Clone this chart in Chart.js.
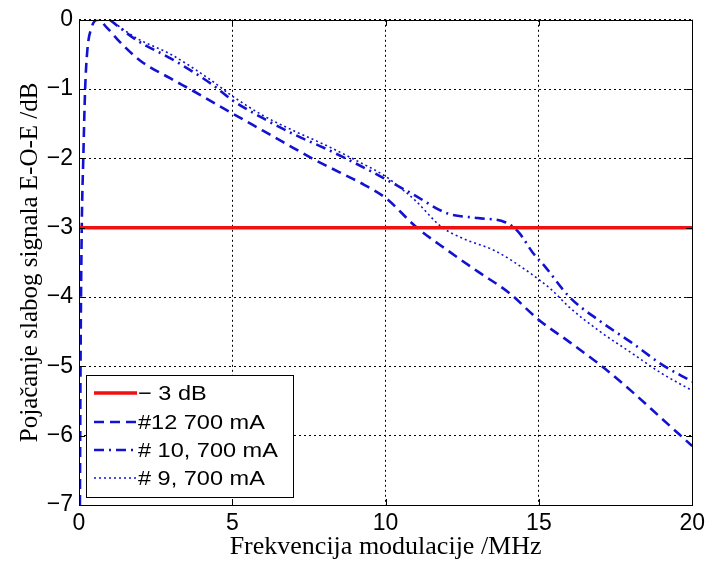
<!DOCTYPE html>
<html>
<head>
<meta charset="utf-8">
<script src="https://cdn.jsdelivr.net/npm/chart.js@4.4.0/dist/chart.umd.min.js"></script>
<style>
  html, body { margin: 0; padding: 0; background: #fff; }
  #wrap { width: 710px; height: 562px; }
</style>
</head>
<body>
<div id="wrap"><canvas id="ctx-gain" width="710" height="562"></canvas></div>
<script>
// series data (MHz, dB)
const limitX = [0, 20];
const limitY = [-3, -3];

const freq12 = [0.03, 0.05, 0.09, 0.14, 0.2, 0.27, 0.41, 0.63, 0.9, 1.4, 2.0, 3.0, 3.7, 5.0, 6.0, 7.0, 7.6, 8.5, 9.3, 10.0, 11.0, 12.0, 13.0, 14.0, 15.0, 16.0, 17.0, 18.0, 19.0, 20.0];
const gain12 = [-7, -5, -3, -2, -1, -0.45, -0.11, 0, -0.11, -0.35, -0.59, -0.85, -1.02, -1.35, -1.6, -1.85, -2.0, -2.2, -2.38, -2.57, -2.99, -3.32, -3.63, -3.93, -4.33, -4.65, -4.98, -5.35, -5.75, -6.15];

const freq10 = [1.0, 1.9, 3.0, 4.3, 5.0, 6.0, 7.0, 8.0, 8.7, 9.5, 10.0, 10.9, 12.0, 13.0, 13.9, 14.35, 14.8, 15.2, 16.0, 17.0, 18.0, 19.0, 20.0];
const gain10 = [0, -0.3, -0.56, -0.92, -1.16, -1.42, -1.65, -1.85, -2.0, -2.18, -2.3, -2.52, -2.79, -2.86, -2.92, -3.07, -3.36, -3.56, -4.0, -4.35, -4.65, -4.97, -5.22];

const freq9 = [1.0, 1.9, 3.0, 4.3, 5.0, 6.0, 7.0, 8.0, 9.0, 10.0, 10.5, 11.0, 11.8, 12.5, 13.6, 14.7, 15.4, 16.0, 17.0, 18.0, 19.0, 20.0];
const gain9 = [0, -0.27, -0.5, -0.87, -1.1, -1.38, -1.6, -1.8, -2.02, -2.26, -2.43, -2.62, -2.98, -3.15, -3.34, -3.65, -3.89, -4.15, -4.5, -4.8, -5.1, -5.35];

const seriesNames = ['\u2212 3 dB', '#12 700 mA', '# 10, 700 mA', '# 9, 700 mA'];
const xTicks = [0, 5, 10, 15, 20];
const yTicks = [0, -1, -2, -3, -4, -5, -6, -7];

const BLUE = '#1212d2';
const RED = '#f01010';

const toPts = (xs, ys) => xs.map((x, i) => ({ x: x, y: ys[i] }));

// legend drawn inside the axes, matlab style
const legendBox = {
    id: 'legendBox',
    afterDatasetsDraw(chart) {
        const c = chart.ctx;
        const a = chart.chartArea;
        const left = a.left + 7, top = 375, w = 207, h = 122;
        c.save();
        c.fillStyle = '#fff';
        c.fillRect(left, top, w, h);
        c.strokeStyle = '#000';
        c.lineWidth = 1;
        c.setLineDash([]);
        c.strokeRect(left + 0.5, top + 0.5, w, h);
        const rows = [393, 422, 450, 478];
        chart.data.datasets.forEach((ds, i) => {
            c.beginPath();
            c.strokeStyle = ds.borderColor;
            c.lineWidth = ds.borderWidth;
            c.setLineDash(ds.borderDash || []);
            c.moveTo(left + 8, rows[i]);
            c.lineTo(left + 51, rows[i]);
            c.stroke();
            c.setLineDash([]);
            c.save();
            c.translate(left + 52, rows[i] + 1);
            c.scale(1.12, 1);
            c.fillStyle = '#000';
            c.font = '21px "Liberation Sans", Arial, sans-serif';
            c.textBaseline = 'middle';
            c.fillText(seriesNames[i], 0, 0);
            c.restore();
        });
        c.restore();
    }
};

// box round the axes plus inward tick marks
const frameBox = {
    id: 'frameBox',
    afterDraw(chart) {
        const c = chart.ctx;
        const a = chart.chartArea;
        const xs = chart.scales.x, ys = chart.scales.y;
        c.save();
        c.strokeStyle = '#000';
        c.lineWidth = 1;
        c.setLineDash([]);
        c.strokeRect(Math.round(a.left) + 0.5, Math.round(a.top) + 0.5, Math.round(a.right - a.left), Math.round(a.bottom - a.top));
        c.beginPath();
        xTicks.forEach(v => {
            const px = Math.round(xs.getPixelForValue(v)) + 0.5;
            c.moveTo(px, a.bottom); c.lineTo(px, a.bottom - 6);
            c.moveTo(px, a.top); c.lineTo(px, a.top + 6);
        });
        yTicks.forEach(v => {
            const py = Math.round(ys.getPixelForValue(v)) + 0.5;
            c.moveTo(a.left, py); c.lineTo(a.left + 6, py);
            c.moveTo(a.right, py); c.lineTo(a.right - 6, py);
        });
        c.stroke();
        c.restore();
    }
};

const tickFont = { family: '"Liberation Sans", Arial, sans-serif', size: 23 };

new Chart(document.getElementById('ctx-gain'), {
    type: 'line',
    data: {
        datasets: [
            { label: seriesNames[0], data: toPts(limitX, limitY), borderColor: RED, borderWidth: 3.5, borderDash: [] },
            { label: seriesNames[1], data: toPts(freq12, gain12), borderColor: BLUE, borderWidth: 2.6, borderDash: [10, 6] },
            { label: seriesNames[2], data: toPts(freq10, gain10), borderColor: BLUE, borderWidth: 2.6, borderDash: [10, 5, 2, 5] },
            { label: seriesNames[3], data: toPts(freq9, gain9), borderColor: BLUE, borderWidth: 1.6, borderDash: [2, 3] }
        ]
    },
    options: {
        responsive: false,
        animation: false,
        events: [],
        layout: { padding: { left: 0, top: 19, right: 15, bottom: 0 } },
        elements: {
            point: { radius: 0 },
            line: { cubicInterpolationMode: 'monotone', fill: false }
        },
        plugins: {
            legend: { display: false },
            tooltip: { enabled: false }
        },
        scales: {
            x: {
                type: 'linear',
                min: 0,
                max: 20,
                afterBuildTicks: (s) => { s.ticks = xTicks.map(v => ({ value: v })); },
                afterFit: (s) => { s.height = 57; },
                ticks: { color: '#000', font: tickFont, padding: 5, maxRotation: 0 },
                grid: { color: '#000', lineWidth: 1, drawTicks: false },
                border: { display: false, dash: [2, 3] },
                title: {
                    display: true, text: 'Frekvencija modulacije /MHz', color: '#000',
                    font: { family: '"Liberation Serif", "Times New Roman", serif', size: 26, lineHeight: 1.1 },
                    padding: { top: 0, bottom: 1 }
                }
            },
            y: {
                type: 'linear',
                min: -7,
                max: 0,
                afterBuildTicks: (s) => { s.ticks = yTicks.map(v => ({ value: v })); },
                afterFit: (s) => { s.width = 79; },
                ticks: {
                    color: '#000', font: tickFont, padding: 6,
                    callback: (v) => v < 0 ? '\u2212' + Math.abs(v) : String(v)
                },
                grid: { color: '#000', lineWidth: 1, drawTicks: false },
                border: { display: false, dash: [2, 3] },
                title: {
                    display: true, text: 'Poja\u010danje slabog signala E-O-E /dB', color: '#000',
                    font: { family: '"Liberation Serif", "Times New Roman", serif', size: 25, lineHeight: 1.1 },
                    padding: { top: 17, bottom: 0 }
                }
            }
        }
    },
    plugins: [legendBox, frameBox]
});
</script>
</body>
</html>
